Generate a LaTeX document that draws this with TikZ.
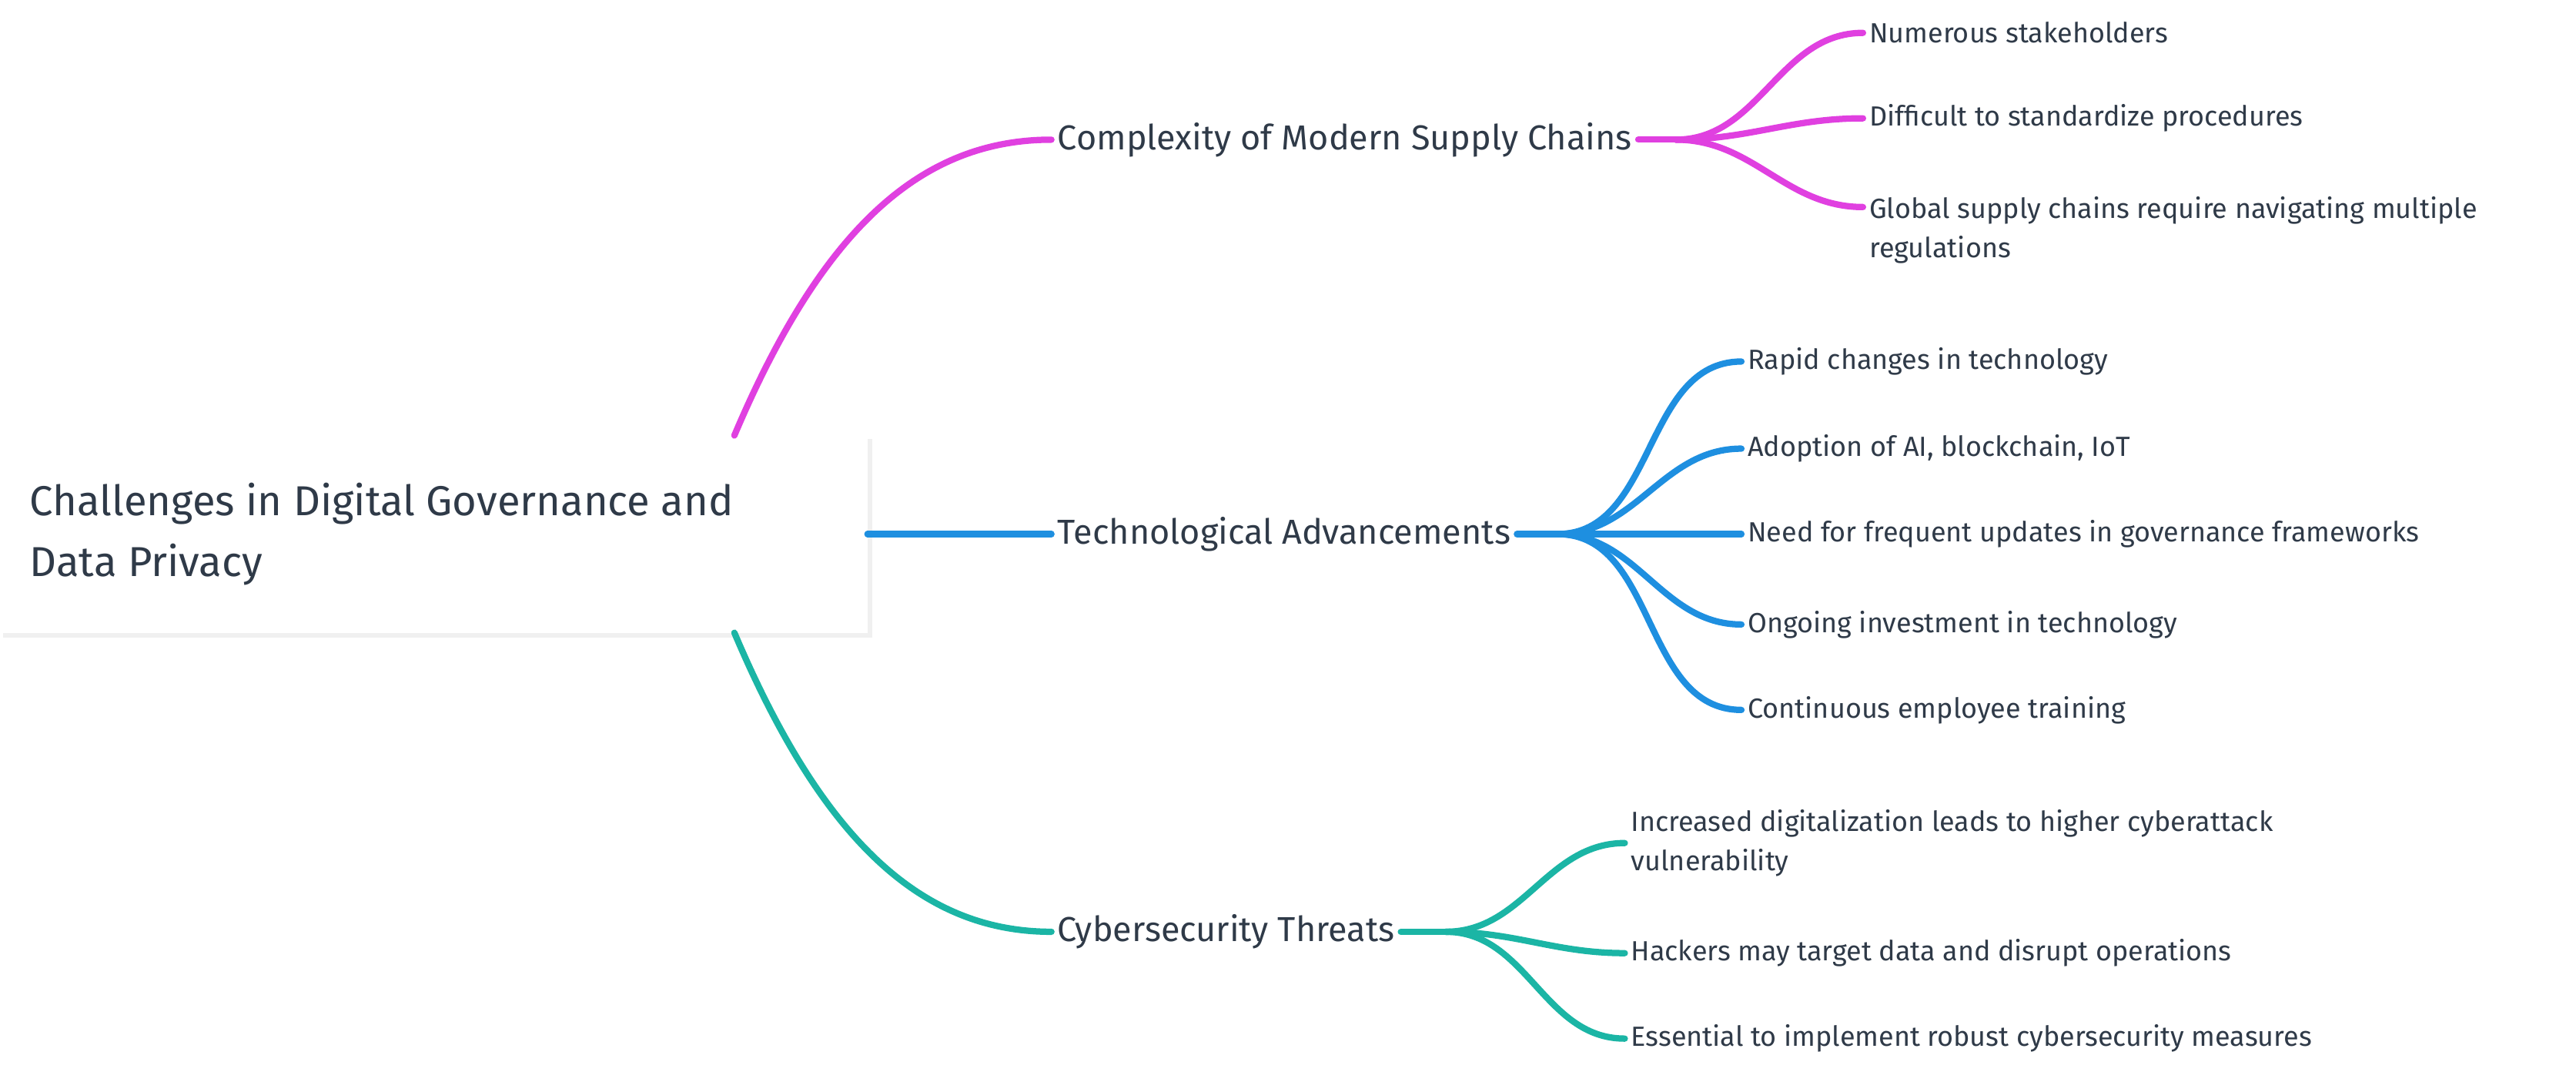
\documentclass[tikz,border=0pt]{standalone}
\usepackage{fontspec}
\setmainfont{Fira Sans}
\definecolor{cmag}{HTML}{E040E0}
\definecolor{cblue}{HTML}{1E8FE0}
\definecolor{cteal}{HTML}{1BB5A5}
\definecolor{ctext}{HTML}{2F3A48}
\tikzset{
  branch/.style={line width=2.2pt, line cap=round},
  topic/.style={anchor=west, inner sep=2pt, text=ctext, font=\fontsize{12}{15}\selectfont},
  leaf/.style={anchor=west, inner sep=2pt, text=ctext, font=\fontsize{9.6}{13.5}\selectfont, align=left},
}
\begin{document}
\begin{tikzpicture}[x=0.02cm, y=-0.02cm]
  \useasboundingbox (0,0) rectangle (1568,658);
  % root box
  \fill[black!6] (2,267) rectangle (531,388);
  \fill[white] (0,265) rectangle (528,385);
  \node[anchor=west, text=ctext, align=left, font=\fontsize{14.5}{21}\selectfont] (root) at (12,325)
    {Challenges in Digital Governance and\\Data Privacy};
  \coordinate (rtop) at (447,265);
  \coordinate (rmid) at (528,325);
  \coordinate (rbot) at (447,385);
  % topics
  \node[topic] (supply) at (640,85) {Complexity of Modern Supply Chains};
  \node[topic] (tech) at (640,325) {Technological Advancements};
  \node[topic] (cyber) at (640,567) {Cybersecurity Threats};
  \draw[branch, cmag] (rtop) .. controls (500,140) and (560,85) .. (supply.west);
  \draw[branch, cblue] (rmid) -- (tech.west);
  \draw[branch, cteal] (rbot) .. controls (500,510) and (560,567) .. (cyber.west);
  \coordinate (sdot) at (1020,85);
  \coordinate (tdot) at (948,325);
  \coordinate (cdot) at (880,567);
  \draw[branch, cmag] (supply.east) -- (sdot);
  \draw[branch, cblue] (tech.east) -- (tdot);
  \draw[branch, cteal] (cyber.east) -- (cdot);
  % leaves: supply chains
  \node[leaf] (s1) at (1134,20) {Numerous stakeholders};
  \node[leaf] (s2) at (1134,72) {Difficult to standardize procedures};
  \node[leaf] (s3) at (1134,140) {Global supply chains require navigating multiple\\regulations};
  \foreach \n in {s1,s2}
    \draw[branch, cmag] (sdot) to[out=0, in=180] (\n.west);
  \coordinate (s3c) at (1134,126);
  \draw[branch, cmag] (sdot) to[out=0, in=180] (s3c);
  % leaves: technology
  \node[leaf] (t1) at (1060,220) {Rapid changes in technology};
  \node[leaf] (t2) at (1060,273) {Adoption of AI, blockchain, IoT};
  \node[leaf] (t3) at (1060,325) {Need for frequent updates in governance frameworks};
  \node[leaf] (t4) at (1060,380) {Ongoing investment in technology};
  \node[leaf] (t5) at (1060,432) {Continuous employee training};
  \foreach \n in {t1,t2,t3,t4,t5}
    \draw[branch, cblue] (tdot) to[out=0, in=180] (\n.west);
  % leaves: cybersecurity
  \node[leaf] (c1) at (989,513) {Increased digitalization leads to higher cyberattack\\vulnerability};
  \node[leaf] (c2) at (989,580) {Hackers may target data and disrupt operations};
  \node[leaf] (c3) at (989,632) {Essential to implement robust cybersecurity measures};
  \foreach \n in {c1,c2,c3}
    \draw[branch, cteal] (cdot) to[out=0, in=180] (\n.west);
\end{tikzpicture}
\end{document}
